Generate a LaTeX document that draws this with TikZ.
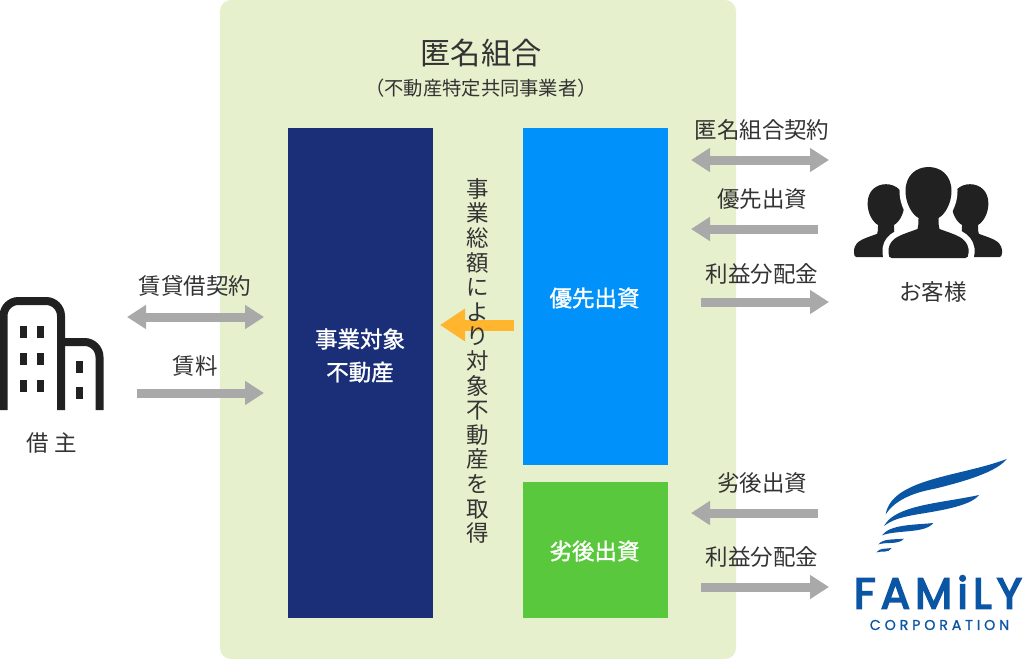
\documentclass[tikz,border=0pt]{standalone}
\usepackage{fontspec}
\setmainfont{Noto Sans CJK JP}
\newfontfamily\boxfont[FakeBold=1.3]{Noto Sans CJK JP}
\newfontfamily\logofont{Poppins}
\usetikzlibrary{arrows.meta}

\definecolor{panelgreen}{HTML}{E6F0CD}
\definecolor{navybox}{HTML}{1A2F78}
\definecolor{bluebox}{HTML}{0091FB}
\definecolor{greenbox}{HTML}{5AC83C}
\definecolor{arrowgray}{HTML}{A9A9A9}
\definecolor{arroworange}{HTML}{FFB52E}
\definecolor{textgray}{HTML}{333333}
\definecolor{iconblack}{HTML}{212121}
\definecolor{logoblue}{HTML}{0B55A5}

\tikzstyle{panel}=[fill=panelgreen, rounded corners=2.2mm, inner sep=0pt, minimum width=103.2mm, minimum height=131.8mm]
\tikzstyle{invest}=[inner sep=0pt, minimum width=29mm]
\tikzstyle{investtext}=[inner sep=0pt, text=white, align=center, font=\boxfont\fontsize{12.8}{18.8}\selectfont]
\tikzstyle{lbl}=[inner sep=0pt, text=textgray, font=\fontsize{12.8}{14}\selectfont]
\tikzstyle{flow}=[arrowgray, line width=1.8mm, -{Triangle[length=3.8mm, width=4.6mm]}]
\tikzstyle{flowboth}=[arrowgray, line width=1.8mm, {Triangle[length=3.8mm, width=4.6mm]}-{Triangle[length=3.8mm, width=4.6mm]}]
\tikzstyle{wing}=[fill=logoblue]

\tikzset{person/.pic={
  \path[fill=iconblack, pic actions] (-37,65) .. controls (-39,65) and (-40,63) .. (-40,60) -- (-40,56) .. controls (-38,44) and (-27,42) .. (-11,36)
    .. controls (-10,33) and (-10,30) .. (-10,25) .. controls (-17,21) and (-23,10) .. (-23,-2)
    .. controls (-23,-18) and (-12,-26) .. (0,-26) .. controls (12,-26) and (23,-18) .. (23,-2)
    .. controls (23,10) and (17,21) .. (10,25) .. controls (10,30) and (10,33) .. (11,36)
    .. controls (27,42) and (38,44) .. (40,56) -- (40,60) .. controls (40,63) and (39,65) .. (37,65) -- cycle;
}}

\begin{document}
\begin{tikzpicture}[x=0.2mm, y=-0.2mm]
      \useasboundingbox (0,0) rectangle (1024,659);

      \node[panel] (kumiai) at (478,329.5) {};
      \node[lbl, font=\fontsize{17.2}{20}\selectfont] (title) at (481,53) {匿名組合};
      \node[lbl, font=\fontsize{11}{13}\selectfont] (subtitle) at (481,88) {（不動産特定共同事業者）};

      \node[invest, fill=navybox, minimum height=98mm] (target) at (360.5,373) {};
      \node[invest, fill=bluebox, minimum height=67.4mm] (senior) at (595.5,296.5) {};
      \node[invest, fill=greenbox, minimum height=27.2mm] (junior) at (595.5,550) {};
      \node[investtext] (targettext) at (360,355.5) {事業対象\\不動産};
      \node[investtext] (seniortext) at (594.5,298) {優先出資};
      \node[investtext] (juniortext) at (594.5,551) {劣後出資};

      % left side
      \coordinate (a1) at (127,317);
      \coordinate (a2) at (264,317);
      \coordinate (b1) at (137,393);
      \coordinate (b2) at (264,393);
      \draw[flowboth] (a1) to (a2);
      \draw[flow] (b1) to (b2);
      \node[lbl] (lease) at (195,286) {賃貸借契約};
      \node[lbl] (rent) at (195,366) {賃料};
      \node[lbl] (tenant) at (52,443) {借 主};

      % right side
      \coordinate (c1) at (691,160);
      \coordinate (c2) at (829,160);
      \coordinate (d1) at (818,229);
      \coordinate (d2) at (691,229);
      \coordinate (e1) at (701,302);
      \coordinate (e2) at (829,302);
      \coordinate (f1) at (818,513);
      \coordinate (f2) at (691,513);
      \coordinate (g1) at (701,587);
      \coordinate (g2) at (829,587);
      \draw[flowboth] (c1) to (c2);
      \draw[flow] (d1) to (d2);
      \draw[flow] (e1) to (e2);
      \draw[flow] (f1) to (f2);
      \draw[flow] (g1) to (g2);
      \node[lbl] (contract) at (762,130) {匿名組合契約};
      \node[lbl] (seniorin) at (762,199) {優先出資};
      \node[lbl] (profit1) at (762,274) {利益分配金};
      \node[lbl] (juniorin) at (762,483) {劣後出資};
      \node[lbl] (profit2) at (762,557) {利益分配金};
      \node[lbl] (customer) at (933,292) {お客様};

      % middle
      \coordinate (h1) at (514,325);
      \coordinate (h2) at (440,325);
      \draw[arroworange, line width=2.2mm, -{Triangle[length=5mm, width=6.2mm]}] (h1) to (h2);
      \node[lbl, align=center] (buy) at (478,361) {事\\業\\総\\額\\に\\よ\\り\\対\\象\\不\\動\\産\\を\\取\\得};

      % building
      \draw[iconblack, line width=1.6mm, rounded corners=3mm] (3.5,410) -- (3.5,301) -- (61,301) -- (61,410);
      \draw[iconblack, line width=1.6mm, rounded corners=3mm] (61,342) -- (99.5,342) -- (99.5,410);
      \foreach \wx in {19.5,37}
        \foreach \wy in {326,353,380}
          \fill[iconblack] (\wx,\wy) rectangle +(7,12);
      \foreach \wy in {361,387}
        \fill[iconblack] (75.5,\wy) rectangle +(7.5,12);

      % customers
      \pic at (886,205) [scale=.8] {person};
      \pic at (970,205) [scale=.8] {person};
      \pic at (928.5,193) [draw=white, line width=2.4mm] {person};
      \pic at (928.5,193) {person};

      % logo
      \begin{scope}[shift={(850,455)}, x=0.0667mm, y=-0.0667mm]
        \fill[wing] (107,178) .. controls (125,70) and (330,65) .. (470,12) .. controls (440,50) and (350,78) .. (250,102) .. controls (190,113) and (135,135) .. (107,178) -- cycle;
        \fill[wing] (102,213) .. controls (135,150) and (270,145) .. (387,120) .. controls (360,155) and (260,168) .. (190,180) .. controls (150,188) and (125,195) .. (102,213) -- cycle;
        \fill[wing] (96,241) .. controls (120,208) and (190,210) .. (250,204) .. controls (225,236) and (140,224) .. (96,241) -- cycle;
        \fill[wing] (85,268) .. controls (100,250) and (130,254) .. (162,251) .. controls (145,270) and (110,260) .. (85,268) -- cycle;
        \fill[wing] (79,292) .. controls (90,278) and (105,282) .. (125,279) .. controls (115,295) and (95,287) .. (79,292) -- cycle;
      \end{scope}
      \node[inner sep=0pt, text=logoblue, font=\logofont\fontsize{24.5}{26}\selectfont\addfontfeature{FakeBold=4,LetterSpace=12}] (family) at (938,592) {FAMiLY};
      \node[inner sep=0pt, text=logoblue, font=\logofont\fontsize{8.1}{9}\selectfont\addfontfeature{FakeBold=1,LetterSpace=27}] (corp) at (939.5,625) {CORPORATION};
\end{tikzpicture}
\end{document}
